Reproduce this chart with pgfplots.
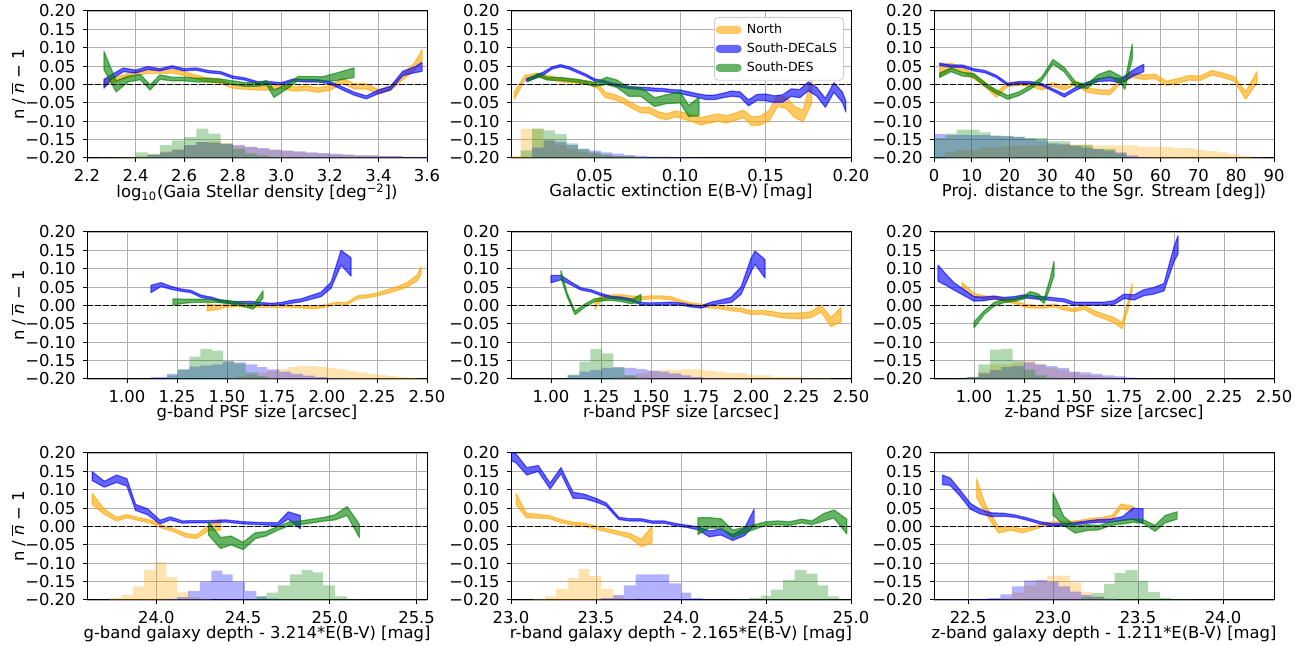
\documentclass[border=0pt]{standalone}
\usepackage{fontspec}
\setmainfont{DejaVu Sans}
\usepackage{pgfplots}
\usepackage{pgfplotstable}
\pgfplotsset{compat=1.18}
\usepgfplotslibrary{fillbetween}

\definecolor{cN}{RGB}{255,165,0}
\definecolor{cS}{RGB}{0,0,255}
\definecolor{cD}{RGB}{0,128,0}

% ---------------- bands: x, centre y, half width e ----------------
% (a) Gaia stellar density
\pgfplotstableread{
x y e
2.27 0.005 0.008
2.30 0.010 0.006
2.35 0.020 0.006
2.40 0.030 0.005
2.45 0.035 0.005
2.50 0.035 0.005
2.55 0.036 0.005
2.60 0.030 0.005
2.65 0.020 0.005
2.70 0.012 0.005
2.75 0.008 0.005
2.80 -0.005 0.005
2.85 -0.008 0.005
2.90 -0.010 0.005
2.95 -0.010 0.005
3.00 -0.005 0.006
3.05 -0.012 0.006
3.10 -0.010 0.006
3.15 -0.015 0.006
3.20 -0.010 0.006
3.25 0.010 0.007
3.30 -0.005 0.007
3.35 -0.005 0.007
3.40 -0.020 0.006
3.45 -0.010 0.006
3.50 0.020 0.007
3.55 0.050 0.010
3.58 0.080 0.015
}\aN
\pgfplotstableread{
x y e
2.27 0.002 0.012
2.30 0.020 0.006
2.35 0.040 0.005
2.40 0.035 0.004
2.45 0.045 0.004
2.50 0.040 0.003
2.55 0.048 0.003
2.60 0.040 0.003
2.65 0.042 0.003
2.70 0.035 0.003
2.75 0.032 0.003
2.80 0.020 0.003
2.85 0.015 0.003
2.90 0.005 0.003
2.95 0.005 0.003
3.00 0.002 0.003
3.05 0.012 0.003
3.10 0.010 0.003
3.15 0.010 0.003
3.20 0.005 0.003
3.25 -0.010 0.004
3.30 -0.025 0.004
3.35 -0.035 0.004
3.40 -0.020 0.005
3.45 -0.010 0.005
3.50 0.030 0.006
3.55 0.040 0.008
3.58 0.048 0.012
}\aS
\pgfplotstableread{
x y e
2.27 0.065 0.025
2.32 -0.005 0.015
2.37 0.015 0.008
2.42 0.020 0.007
2.46 -0.008 0.007
2.50 0.020 0.006
2.55 0.015 0.005
2.60 0.015 0.005
2.65 0.012 0.005
2.70 0.012 0.005
2.75 0.010 0.005
2.80 0.005 0.005
2.85 0.000 0.005
2.90 0.000 0.005
2.94 0.005 0.006
2.97 -0.025 0.010
3.03 -0.003 0.006
3.07 0.017 0.005
3.12 0.017 0.005
3.17 0.015 0.006
3.22 0.020 0.010
3.30 0.032 0.013
}\aD
% (b) Galactic extinction
\pgfplotstableread{
x y e
0.003 -0.030 0.010
0.009 0.018 0.006
0.016 0.026 0.005
0.022 0.020 0.005
0.030 0.012 0.005
0.040 0.008 0.005
0.047 0.004 0.005
0.052 -0.005 0.006
0.056 -0.028 0.007
0.062 -0.035 0.007
0.067 -0.045 0.007
0.072 -0.058 0.007
0.077 -0.070 0.007
0.082 -0.070 0.008
0.087 -0.082 0.008
0.092 -0.088 0.008
0.097 -0.080 0.008
0.102 -0.085 0.009
0.107 -0.092 0.009
0.112 -0.100 0.010
0.117 -0.095 0.010
0.122 -0.090 0.010
0.127 -0.095 0.010
0.132 -0.088 0.010
0.137 -0.080 0.010
0.142 -0.100 0.012
0.147 -0.098 0.012
0.152 -0.085 0.014
0.157 -0.045 0.015
0.162 -0.050 0.015
0.167 -0.075 0.015
0.172 -0.085 0.015
0.177 -0.015 0.035
}\bN
\pgfplotstableread{
x y e
0.010 0.012 0.004
0.015 0.020 0.004
0.020 0.030 0.004
0.025 0.045 0.003
0.030 0.051 0.003
0.035 0.045 0.003
0.040 0.035 0.003
0.045 0.025 0.003
0.050 0.012 0.003
0.055 0.008 0.003
0.060 0.001 0.003
0.065 -0.004 0.003
0.070 -0.008 0.003
0.075 -0.010 0.003
0.080 -0.012 0.004
0.085 -0.014 0.004
0.090 -0.015 0.004
0.095 -0.018 0.004
0.100 -0.020 0.005
0.105 -0.025 0.005
0.110 -0.030 0.005
0.115 -0.035 0.006
0.120 -0.035 0.006
0.125 -0.030 0.006
0.130 -0.025 0.007
0.135 -0.027 0.007
0.140 -0.050 0.008
0.145 -0.035 0.008
0.150 -0.035 0.009
0.155 -0.040 0.009
0.160 -0.038 0.010
0.165 -0.022 0.010
0.170 -0.025 0.011
0.175 -0.005 0.012
0.180 -0.020 0.012
0.185 -0.050 0.012
0.190 -0.008 0.013
0.195 -0.035 0.014
0.197 -0.060 0.015
}\bS
\pgfplotstableread{
x y e
0.011 0.012 0.004
0.017 0.026 0.004
0.022 0.016 0.004
0.030 0.015 0.004
0.040 0.010 0.004
0.050 0.000 0.005
0.057 0.010 0.010
0.063 0.002 0.010
0.070 -0.020 0.012
0.077 -0.020 0.012
0.085 -0.048 0.012
0.092 -0.040 0.012
0.100 -0.035 0.015
0.105 -0.072 0.015
0.111 -0.060 0.025
}\bD
% (c) distance to the Sgr. stream
\pgfplotstableread{
x y e
1.5 0.038 0.015
4.5 0.050 0.008
7.5 0.040 0.006
10.5 0.022 0.006
13.5 0.000 0.006
16.5 -0.028 0.007
19.5 0.000 0.005
22.5 0.002 0.005
25.5 0.000 0.005
28.5 -0.010 0.005
31.5 0.000 0.005
34.5 -0.010 0.005
37.5 0.005 0.005
40.5 -0.015 0.006
43.5 -0.020 0.006
46.5 -0.022 0.006
49.5 0.010 0.006
52.5 0.025 0.006
55.5 0.020 0.006
58.5 0.022 0.006
61.5 0.003 0.006
64.5 0.010 0.006
67.5 0.018 0.006
70.5 0.017 0.006
73.5 0.032 0.006
76.5 0.025 0.006
79.5 0.015 0.006
82.5 -0.030 0.010
85.5 0.020 0.015
}\cN
\pgfplotstableread{
x y e
1.5 0.055 0.003
4.5 0.050 0.003
7.5 0.050 0.003
10.5 0.040 0.003
13.5 0.035 0.003
16.5 0.022 0.003
19.5 0.000 0.003
22.5 0.005 0.003
25.5 0.005 0.003
28.5 0.000 0.003
31.5 -0.015 0.003
34.5 -0.030 0.004
37.5 -0.012 0.004
40.5 0.002 0.004
43.5 0.012 0.004
46.5 0.015 0.005
49.5 0.010 0.006
52.5 0.030 0.008
55.5 0.045 0.010
}\cS
\pgfplotstableread{
x y e
1.5 0.025 0.006
4.5 0.040 0.005
7.5 0.028 0.005
10.5 0.025 0.005
13.5 0.000 0.005
16.5 -0.020 0.005
19.5 -0.035 0.005
22.5 -0.025 0.005
25.5 -0.008 0.005
28.5 0.015 0.005
31.5 0.062 0.006
34.5 0.040 0.006
37.5 0.000 0.006
40.5 -0.005 0.006
43.5 0.020 0.007
46.5 0.030 0.008
49.5 0.012 0.010
50.5 -0.003 0.010
52.5 0.090 0.020
}\cD
% (d) g-band PSF
\pgfplotstableread{
x y e
1.40 -0.005 0.010
1.45 -0.005 0.006
1.50 0.000 0.004
1.55 0.000 0.003
1.60 -0.002 0.003
1.65 -0.002 0.003
1.70 -0.002 0.003
1.75 -0.003 0.003
1.80 -0.001 0.003
1.85 -0.003 0.003
1.90 -0.005 0.003
1.95 -0.006 0.003
2.00 0.000 0.003
2.05 0.006 0.003
2.10 0.005 0.003
2.15 0.022 0.004
2.20 0.025 0.004
2.25 0.030 0.004
2.30 0.038 0.005
2.35 0.046 0.005
2.40 0.056 0.006
2.45 0.075 0.008
2.47 0.095 0.010
}\dN
\pgfplotstableread{
x y e
1.12 0.045 0.010
1.17 0.057 0.005
1.22 0.048 0.004
1.27 0.042 0.003
1.32 0.038 0.003
1.37 0.025 0.003
1.42 0.020 0.003
1.47 0.012 0.003
1.52 0.008 0.003
1.57 0.008 0.003
1.62 0.008 0.003
1.67 0.005 0.003
1.72 0.003 0.003
1.77 0.005 0.003
1.82 0.010 0.004
1.87 0.014 0.004
1.92 0.022 0.005
1.97 0.030 0.006
2.02 0.055 0.008
2.07 0.130 0.020
2.12 0.105 0.025
}\dS
\pgfplotstableread{
x y e
1.23 0.010 0.008
1.30 0.012 0.005
1.35 0.013 0.004
1.40 0.013 0.004
1.45 0.012 0.004
1.50 0.010 0.004
1.55 0.006 0.004
1.60 0.000 0.005
1.63 -0.004 0.006
1.66 0.015 0.008
1.68 0.030 0.010
}\dD
% (e) r-band PSF
\pgfplotstableread{
x y e
1.22 0.000 0.010
1.25 0.020 0.006
1.30 0.025 0.004
1.35 0.025 0.004
1.40 0.022 0.004
1.45 0.020 0.004
1.50 0.022 0.004
1.55 0.022 0.004
1.60 0.020 0.004
1.65 0.010 0.004
1.70 0.003 0.004
1.75 0.000 0.004
1.80 -0.003 0.004
1.85 -0.005 0.004
1.90 -0.010 0.004
1.95 -0.012 0.005
2.00 -0.020 0.005
2.05 -0.018 0.005
2.10 -0.022 0.006
2.15 -0.027 0.006
2.20 -0.028 0.007
2.25 -0.028 0.008
2.30 -0.025 0.008
2.35 -0.008 0.010
2.40 -0.045 0.012
2.45 -0.025 0.020
}\eN
\pgfplotstableread{
x y e
1.00 0.072 0.010
1.05 0.076 0.006
1.10 0.060 0.004
1.15 0.045 0.003
1.20 0.040 0.003
1.25 0.030 0.003
1.30 0.022 0.003
1.35 0.020 0.003
1.40 0.015 0.003
1.45 0.005 0.003
1.50 0.004 0.003
1.55 0.005 0.003
1.60 0.006 0.003
1.65 0.004 0.003
1.70 -0.001 0.003
1.75 -0.004 0.003
1.80 0.005 0.004
1.85 0.010 0.005
1.90 0.015 0.007
1.95 0.040 0.010
2.00 0.110 0.018
2.02 0.130 0.018
2.07 0.100 0.025
}\eS
\pgfplotstableread{
x y e
1.05 0.085 0.010
1.08 0.030 0.005
1.12 -0.020 0.005
1.17 0.000 0.004
1.22 0.015 0.004
1.30 0.018 0.004
1.35 0.015 0.004
1.40 0.010 0.005
1.45 0.020 0.010
}\eD
% (f) z-band PSF
\pgfplotstableread{
x y e
0.94 0.055 0.008
1.00 0.028 0.005
1.05 0.022 0.004
1.10 0.020 0.004
1.15 0.015 0.004
1.20 0.010 0.004
1.25 0.000 0.004
1.30 -0.003 0.004
1.35 -0.003 0.004
1.40 0.000 0.004
1.45 -0.008 0.004
1.50 -0.013 0.004
1.55 -0.005 0.005
1.60 -0.020 0.006
1.65 -0.030 0.006
1.70 -0.040 0.007
1.74 -0.055 0.008
1.77 0.000 0.010
1.79 0.048 0.012
}\fN
\pgfplotstableread{
x y e
0.82 0.088 0.022
0.86 0.070 0.015
0.90 0.052 0.010
0.95 0.035 0.008
1.00 0.018 0.006
1.05 0.018 0.005
1.10 0.022 0.004
1.15 0.018 0.004
1.20 0.020 0.004
1.25 0.025 0.004
1.30 0.022 0.004
1.35 0.020 0.004
1.40 0.017 0.004
1.45 0.014 0.004
1.50 0.005 0.004
1.55 0.005 0.004
1.60 0.005 0.004
1.65 0.005 0.004
1.70 0.008 0.005
1.75 0.025 0.006
1.80 0.022 0.007
1.85 0.035 0.008
1.90 0.040 0.009
1.95 0.050 0.010
2.00 0.140 0.020
2.02 0.165 0.025
}\fS
\pgfplotstableread{
x y e
1.00 -0.053 0.008
1.05 -0.020 0.005
1.10 0.003 0.005
1.15 0.012 0.004
1.20 0.015 0.004
1.25 0.022 0.004
1.28 0.033 0.005
1.32 0.026 0.006
1.35 0.012 0.006
1.38 0.060 0.012
1.40 0.100 0.020
}\fD
% (g) g-band depth
\pgfplotstableread{
x y e
23.63 0.075 0.015
23.70 0.040 0.007
23.77 0.020 0.005
23.83 0.028 0.004
23.90 0.020 0.004
23.97 0.013 0.004
24.03 0.000 0.004
24.10 -0.010 0.004
24.17 -0.024 0.005
24.23 -0.028 0.005
24.30 -0.005 0.007
24.37 0.005 0.015
}\gN
\pgfplotstableread{
x y e
23.63 0.137 0.012
23.70 0.115 0.008
23.77 0.130 0.010
23.83 0.120 0.010
23.88 0.052 0.008
23.95 0.040 0.008
24.02 0.012 0.005
24.08 0.022 0.004
24.15 0.012 0.003
24.20 0.013 0.003
24.30 0.013 0.003
24.40 0.015 0.003
24.50 0.010 0.003
24.60 0.008 0.003
24.70 0.006 0.004
24.76 0.030 0.010
24.83 0.012 0.018
}\gS
\pgfplotstableread{
x y e
24.30 -0.005 0.018
24.37 -0.045 0.015
24.43 -0.038 0.012
24.50 -0.053 0.010
24.57 -0.025 0.008
24.63 -0.020 0.006
24.70 -0.005 0.005
24.77 0.008 0.005
24.83 0.010 0.005
24.90 0.015 0.005
24.97 0.020 0.005
25.03 0.025 0.007
25.10 0.042 0.012
25.17 -0.012 0.018
}\gD
% (h) r-band depth
\pgfplotstableread{
x y e
23.03 0.075 0.015
23.09 0.030 0.006
23.16 0.028 0.005
23.23 0.025 0.004
23.29 0.015 0.004
23.365 0.008 0.004
23.43 0.005 0.004
23.497 -0.003 0.004
23.56 -0.010 0.004
23.634 -0.018 0.005
23.70 -0.025 0.006
23.766 -0.045 0.010
23.83 -0.022 0.022
}\hN
\pgfplotstableread{
x y e
23.00 0.192 0.012
23.03 0.185 0.012
23.093 0.150 0.010
23.16 0.158 0.008
23.23 0.110 0.008
23.294 0.152 0.008
23.365 0.085 0.008
23.43 0.082 0.006
23.497 0.072 0.005
23.56 0.060 0.004
23.634 0.022 0.003
23.70 0.018 0.003
23.766 0.018 0.003
23.83 0.012 0.003
23.90 0.012 0.003
23.97 0.005 0.003
24.04 0.000 0.003
24.10 -0.005 0.004
24.166 -0.020 0.008
24.235 -0.015 0.008
24.304 -0.030 0.008
24.373 -0.015 0.010
24.43 0.025 0.022
}\hS
\pgfplotstableread{
x y e
24.10 0.001 0.023
24.166 0.010 0.014
24.235 0.008 0.013
24.304 -0.020 0.010
24.373 -0.010 0.008
24.442 0.000 0.006
24.50 0.008 0.005
24.57 0.010 0.005
24.64 0.008 0.005
24.71 0.015 0.005
24.77 0.010 0.005
24.84 0.025 0.010
24.90 0.034 0.011
24.975 0.000 0.020
}\hD
% (i) z-band depth
\pgfplotstableread{
x y e
22.55 0.105 0.025
22.60 0.050 0.012
22.68 -0.010 0.008
22.75 -0.005 0.005
22.82 -0.012 0.005
22.88 -0.005 0.004
22.95 0.005 0.004
23.02 0.010 0.004
23.08 0.010 0.004
23.15 0.012 0.004
23.22 0.018 0.004
23.29 0.020 0.005
23.35 0.025 0.006
23.40 0.055 0.006
23.47 0.048 0.007
}\iN
\pgfplotstableread{
x y e
22.35 0.127 0.013
22.395 0.122 0.010
22.455 0.090 0.008
22.514 0.055 0.008
22.573 0.040 0.006
22.64 0.032 0.005
22.71 0.032 0.004
22.78 0.028 0.003
22.85 0.020 0.003
22.925 0.010 0.003
22.995 0.005 0.003
23.064 0.005 0.003
23.13 0.008 0.003
23.20 0.012 0.003
23.27 0.015 0.004
23.34 0.016 0.004
23.41 0.022 0.005
23.47 0.035 0.015
23.53 0.028 0.020
}\iS
\pgfplotstableread{
x y e
23.00 0.062 0.030
23.064 0.015 0.012
23.13 -0.008 0.010
23.20 -0.003 0.008
23.27 -0.003 0.006
23.34 0.008 0.005
23.41 0.012 0.005
23.47 0.016 0.005
23.53 0.014 0.005
23.60 -0.005 0.008
23.66 0.020 0.010
23.73 0.030 0.010
}\iD

% ---------------- histograms: left bin edge, bar top ----------------
\pgfplotstableread{
x h
2.25 -0.200
2.30 -0.199
2.40 -0.195
2.45 -0.190
2.50 -0.182
2.55 -0.175
2.60 -0.165
2.65 -0.157
2.70 -0.155
2.75 -0.160
2.80 -0.167
2.85 -0.170
2.90 -0.175
2.95 -0.178
3.00 -0.180
3.05 -0.183
3.10 -0.186
3.15 -0.188
3.20 -0.190
3.30 -0.192
3.40 -0.195
3.50 -0.198
3.60 -0.200
}\haN
\pgfplotstableread{
x h
2.25 -0.200
2.40 -0.197
2.45 -0.192
2.50 -0.185
2.55 -0.178
2.60 -0.165
2.65 -0.157
2.70 -0.158
2.75 -0.162
2.80 -0.165
2.85 -0.170
2.90 -0.173
2.95 -0.177
3.00 -0.180
3.05 -0.182
3.10 -0.185
3.15 -0.187
3.20 -0.189
3.25 -0.191
3.30 -0.193
3.40 -0.195
3.50 -0.197
3.60 -0.200
}\haS
\pgfplotstableread{
x h
2.25 -0.200
2.35 -0.198
2.40 -0.185
2.45 -0.189
2.50 -0.165
2.55 -0.152
2.60 -0.143
2.65 -0.120
2.70 -0.134
2.75 -0.160
2.80 -0.175
2.85 -0.188
2.90 -0.193
2.95 -0.197
3.00 -0.199
3.30 -0.200
}\haD
\pgfplotstableread{
x h
0.0000 -0.200
0.0000 -0.195
0.0067 -0.120
0.0134 -0.120
0.0201 -0.150
0.0268 -0.165
0.0335 -0.175
0.0402 -0.183
0.0469 -0.188
0.0536 -0.192
0.0603 -0.195
0.0670 -0.197
0.0804 -0.199
0.1000 -0.200
}\hbN
\pgfplotstableread{
x h
0.0067 -0.200
0.0134 -0.172
0.0201 -0.152
0.0268 -0.156
0.0335 -0.165
0.0402 -0.175
0.0469 -0.180
0.0536 -0.185
0.0603 -0.188
0.0670 -0.192
0.0737 -0.194
0.0804 -0.196
0.0938 -0.198
0.1100 -0.199
0.1500 -0.200
}\hbS
\pgfplotstableread{
x h
0.0067 -0.200
0.0067 -0.179
0.0134 -0.120
0.0201 -0.125
0.0268 -0.135
0.0335 -0.160
0.0402 -0.175
0.0469 -0.185
0.0536 -0.190
0.0603 -0.195
0.0737 -0.198
0.0900 -0.200
}\hbD
\pgfplotstableread{
x h
0 -0.200
3 -0.183
6 -0.178
12 -0.172
18 -0.168
24 -0.165
30 -0.163
42 -0.166
54 -0.170
63 -0.173
69 -0.177
72 -0.181
75 -0.185
78 -0.190
81 -0.195
84 -0.199
87 -0.200
}\hcN
\pgfplotstableread{
x h
0 -0.200
0 -0.135
3 -0.137
9 -0.138
15 -0.139
18 -0.141
21 -0.143
24 -0.147
27 -0.152
30 -0.160
33 -0.163
36 -0.167
39 -0.172
42 -0.176
45 -0.180
48 -0.185
51 -0.193
54 -0.198
57 -0.200
}\hcS
\pgfplotstableread{
x h
0 -0.200
0 -0.145
3 -0.134
6 -0.123
12 -0.130
15 -0.140
21 -0.142
24 -0.145
30 -0.155
36 -0.165
42 -0.175
48 -0.188
51 -0.200
}\hcD
\pgfplotstableread{
x h
1.40 -0.200
1.50 -0.197
1.55 -0.193
1.60 -0.188
1.65 -0.183
1.70 -0.178
1.75 -0.173
1.80 -0.168
1.85 -0.165
1.90 -0.165
1.95 -0.167
2.00 -0.170
2.05 -0.174
2.10 -0.178
2.15 -0.182
2.20 -0.186
2.25 -0.189
2.30 -0.192
2.35 -0.195
2.40 -0.197
2.45 -0.199
2.50 -0.200
}\hdN
\pgfplotstableread{
x h
1.10 -0.200
1.12 -0.195
1.200 -0.186
1.256 -0.175
1.312 -0.166
1.367 -0.163
1.426 -0.160
1.481 -0.153
1.534 -0.155
1.593 -0.160
1.651 -0.168
1.70 -0.174
1.76 -0.180
1.82 -0.186
1.88 -0.191
1.94 -0.195
2.00 -0.198
2.10 -0.200
}\hdS
\pgfplotstableread{
x h
1.145 -0.200
1.200 -0.190
1.256 -0.173
1.312 -0.139
1.367 -0.118
1.426 -0.123
1.481 -0.151
1.534 -0.158
1.593 -0.182
1.651 -0.192
1.70 -0.197
1.76 -0.199
1.82 -0.200
}\hdD
\pgfplotstableread{
x h
1.25 -0.200
1.312 -0.195
1.367 -0.190
1.426 -0.185
1.48 -0.178
1.54 -0.175
1.65 -0.174
1.76 -0.177
1.82 -0.180
1.87 -0.184
1.98 -0.190
2.10 -0.195
2.25 -0.198
2.40 -0.200
}\heN
\pgfplotstableread{
x h
1.03 -0.200
1.03 -0.198
1.083 -0.190
1.142 -0.180
1.197 -0.175
1.254 -0.170
1.312 -0.168
1.367 -0.170
1.426 -0.173
1.48 -0.177
1.54 -0.180
1.59 -0.185
1.65 -0.190
1.70 -0.195
1.76 -0.198
1.85 -0.200
}\heS
\pgfplotstableread{
x h
1.03 -0.200
1.083 -0.188
1.142 -0.153
1.197 -0.119
1.254 -0.130
1.312 -0.169
1.367 -0.190
1.426 -0.196
1.48 -0.200
}\heD
\pgfplotstableread{
x h
0.966 -0.200
0.966 -0.195
1.022 -0.180
1.080 -0.160
1.137 -0.160
1.193 -0.155
1.248 -0.150
1.305 -0.160
1.360 -0.170
1.418 -0.176
1.475 -0.182
1.530 -0.188
1.585 -0.191
1.640 -0.195
1.700 -0.198
1.760 -0.200
}\hfN
\pgfplotstableread{
x h
0.910 -0.200
0.910 -0.198
0.966 -0.195
1.022 -0.185
1.080 -0.175
1.137 -0.168
1.193 -0.165
1.248 -0.155
1.305 -0.160
1.360 -0.165
1.418 -0.170
1.475 -0.180
1.530 -0.182
1.585 -0.186
1.640 -0.190
1.700 -0.193
1.760 -0.196
1.815 -0.198
1.870 -0.200
}\hfS
\pgfplotstableread{
x h
0.966 -0.200
0.966 -0.195
1.022 -0.160
1.080 -0.120
1.137 -0.118
1.193 -0.150
1.248 -0.175
1.305 -0.190
1.360 -0.196
1.418 -0.199
1.475 -0.200
}\hfD
\pgfplotstableread{
x h
23.66 -0.200
23.73 -0.195
23.798 -0.186
23.865 -0.163
23.93 -0.118
23.994 -0.097
24.058 -0.138
24.12 -0.179
24.187 -0.192
24.25 -0.197
24.313 -0.200
}\hgN
\pgfplotstableread{
x h
24.05 -0.200
24.05 -0.197
24.12 -0.192
24.183 -0.175
24.25 -0.150
24.317 -0.120
24.38 -0.130
24.44 -0.150
24.51 -0.175
24.577 -0.190
24.635 -0.196
24.70 -0.199
24.77 -0.200
}\hgS
\pgfplotstableread{
x h
24.50 -0.200
24.50 -0.198
24.577 -0.190
24.635 -0.180
24.70 -0.160
24.77 -0.130
24.837 -0.118
24.90 -0.125
24.96 -0.160
25.03 -0.190
25.10 -0.198
25.17 -0.200
}\hgD
\pgfplotstableread{
x h
23.065 -0.200
23.132 -0.197
23.200 -0.190
23.266 -0.170
23.333 -0.140
23.398 -0.115
23.463 -0.135
23.530 -0.170
23.600 -0.190
23.664 -0.198
23.733 -0.200
}\hhN
\pgfplotstableread{
x h
23.46 -0.200
23.53 -0.195
23.60 -0.187
23.664 -0.160
23.733 -0.130
23.80 -0.130
23.86 -0.130
23.93 -0.155
24.00 -0.180
24.06 -0.195
24.127 -0.198
24.196 -0.200
}\hhS
\pgfplotstableread{
x h
24.27 -0.200
24.33 -0.198
24.403 -0.195
24.472 -0.188
24.53 -0.172
24.60 -0.145
24.669 -0.118
24.738 -0.128
24.803 -0.160
24.866 -0.190
24.93 -0.200
}\hhD
\pgfplotstableread{
x h
22.62 -0.200
22.69 -0.195
22.76 -0.180
22.83 -0.160
22.90 -0.148
22.966 -0.134
23.033 -0.134
23.10 -0.152
23.166 -0.178
23.23 -0.190
23.30 -0.197
23.37 -0.200
}\hiN
\pgfplotstableread{
x h
22.30 -0.200
22.30 -0.199
22.55 -0.197
22.62 -0.195
22.69 -0.185
22.76 -0.163
22.83 -0.147
22.90 -0.145
22.966 -0.150
23.033 -0.163
23.10 -0.177
23.166 -0.186
23.23 -0.192
23.30 -0.196
23.37 -0.199
23.45 -0.200
}\hiS
\pgfplotstableread{
x h
23.166 -0.200
23.166 -0.192
23.23 -0.181
23.30 -0.156
23.362 -0.127
23.426 -0.118
23.497 -0.148
23.56 -0.178
23.63 -0.194
23.694 -0.198
23.826 -0.200
}\hiD

% ---------------- drawing helpers ----------------
\newcommand\band[3]{% name, colour, table
  \addplot[draw=none, forget plot, name path=#1hi] table[x=x, y expr=\thisrow{y}+\thisrow{e}] {#3};
  \addplot[draw=none, forget plot, name path=#1lo] table[x=x, y expr=\thisrow{y}-\thisrow{e}] {#3};
  \addplot[fill=#2, fill opacity=0.6, draw=#2, draw opacity=0.6, line width=0.6pt,
    line join=round, forget plot] fill between[of=#1hi and #1lo];
}
\newcommand\hist[2]{% colour, table
  \addplot[const plot mark left, draw=none, fill=#1, fill opacity=0.3, forget plot]
    table[x=x, y=h] {#2} -- cycle;
}
\newcommand\zeroline[2]{%
  \addplot[black, line width=0.75pt, dash pattern=on 2.8pt off 1.2pt, forget plot]
    coordinates {(#1,0) (#2,0)};
}

\newcommand\lbl{\fontsize{8.2}{9.5}\selectfont}
\newcommand\leg{\fontsize{6.3}{7.2}\selectfont}
\pgfplotsset{
  panel/.style={
    scale only axis, width=170pt, height=73.5pt, anchor=north west,
    ymin=-0.2, ymax=0.2,
    ytick={-0.2,-0.15,-0.1,-0.05,0,0.05,0.1,0.15,0.2},
    yticklabels={−0.20,−0.15,−0.10,−0.05,0.00,0.05,0.10,0.15,0.20},
    grid=major, grid style={draw=black!31, line width=0.45pt},
    axis line style={line width=0.5pt, black},
    tick style={line width=0.5pt, black},
    major tick length=2.2pt, tick align=outside, tick pos=left,
    tick label style={font=\lbl},
    label style={font=\lbl},
    xlabel style={yshift=6pt},
    ylabel style={yshift=-7pt},
  },
  ylab/.style={ylabel={n / $\overline{\hbox{\itshape n}}\hbox{\hspace{0.3em}−\hspace{0.3em}1}$}},
}

\begin{document}
\begin{tikzpicture}
% ---- row 1 ----
\begin{axis}[panel, ylab, at={(43.5pt,-5.5pt)},
  xmin=2.2, xmax=3.6, xtick={2.2,2.4,2.6,2.8,3.0,3.2,3.4,3.6},
  xticklabels={2.2,2.4,2.6,2.8,3.0,3.2,3.4,3.6},
  xlabel={log\textsubscript{10}(Gaia Stellar density [deg\textsuperscript{−2}])}]
\hist{cN}{\haN}\hist{cS}{\haS}\hist{cD}{\haD}
\band{n}{cN}{\aN}\band{s}{cS}{\aS}\band{d}{cD}{\aD}
\zeroline{2.2}{3.6}
\end{axis}
\begin{axis}[panel, at={(255.5pt,-5.5pt)},
  xmin=0.001, xmax=0.2, xtick={0.05,0.10,0.15,0.20},
  xticklabels={0.05,0.10,0.15,0.20},
  xlabel={Galactic extinction E(B-V) [mag]},
  legend style={at={(1,1)}, xshift=-3.5pt, yshift=-3pt, anchor=north east,
    draw=black!20, rounded corners=2pt, fill=white, font=\leg,
    nodes={inner xsep=2.6pt, inner ysep=1.1pt},
    row sep=1pt, inner xsep=0.6pt, inner ysep=2pt},
  legend cell align=left,
  legend image code/.code={\fill[#1] (0pt,-2pt) rectangle (13pt,2pt);}]
\hist{cN}{\hbN}\hist{cS}{\hbS}\hist{cD}{\hbD}
\band{n}{cN}{\bN}\band{s}{cS}{\bS}\band{d}{cD}{\bD}
\zeroline{0.001}{0.2}
\addlegendimage{fill=cN, fill opacity=0.6, draw=none}
\addlegendentry{North}
\addlegendimage{fill=cS, fill opacity=0.6, draw=none}
\addlegendentry{South-DECaLS}
\addlegendimage{fill=cD, fill opacity=0.6, draw=none}
\addlegendentry{South-DES}
\end{axis}
\begin{axis}[panel, at={(467pt,-5.5pt)},
  xmin=0, xmax=90, xtick={0,10,...,90},
  xticklabels={0,10,20,30,40,50,60,70,80,90},
  xlabel={Proj. distance to the Sgr. Stream [deg])}]
\hist{cN}{\hcN}\hist{cS}{\hcS}\hist{cD}{\hcD}
\band{n}{cN}{\cN}\band{s}{cS}{\cS}\band{d}{cD}{\cD}
\zeroline{0}{90}
\end{axis}
% ---- row 2 ----
\begin{axis}[panel, ylab, at={(43.5pt,-116pt)},
  xmin=0.8, xmax=2.5, xtick={1,1.25,1.5,1.75,2,2.25,2.5},
  xticklabels={1.00,1.25,1.50,1.75,2.00,2.25,2.50},
  xlabel={g-band PSF size [arcsec]}]
\hist{cN}{\hdN}\hist{cS}{\hdS}\hist{cD}{\hdD}
\band{n}{cN}{\dN}\band{s}{cS}{\dS}\band{d}{cD}{\dD}
\zeroline{0.8}{2.5}
\end{axis}
\begin{axis}[panel, at={(255.5pt,-116pt)},
  xmin=0.8, xmax=2.5, xtick={1,1.25,1.5,1.75,2,2.25,2.5},
  xticklabels={1.00,1.25,1.50,1.75,2.00,2.25,2.50},
  xlabel={r-band PSF size [arcsec]}]
\hist{cN}{\heN}\hist{cS}{\heS}\hist{cD}{\heD}
\band{n}{cN}{\eN}\band{s}{cS}{\eS}\band{d}{cD}{\eD}
\zeroline{0.8}{2.5}
\end{axis}
\begin{axis}[panel, at={(467pt,-116pt)},
  xmin=0.8, xmax=2.5, xtick={1,1.25,1.5,1.75,2,2.25,2.5},
  xticklabels={1.00,1.25,1.50,1.75,2.00,2.25,2.50},
  xlabel={z-band PSF size [arcsec]}]
\hist{cN}{\hfN}\hist{cS}{\hfS}\hist{cD}{\hfD}
\band{n}{cN}{\fN}\band{s}{cS}{\fS}\band{d}{cD}{\fD}
\zeroline{0.8}{2.5}
\end{axis}
% ---- row 3 ----
\begin{axis}[panel, ylab, at={(43.5pt,-226.5pt)},
  xmin=23.6, xmax=25.56, xtick={24,24.5,25,25.5},
  xticklabels={24.0,24.5,25.0,25.5},
  xlabel={g-band galaxy depth - 3.214*E(B-V) [mag]}]
\hist{cN}{\hgN}\hist{cS}{\hgS}\hist{cD}{\hgD}
\band{n}{cN}{\gN}\band{s}{cS}{\gS}\band{d}{cD}{\gD}
\zeroline{23.6}{25.56}
\end{axis}
\begin{axis}[panel, at={(255.5pt,-226.5pt)},
  xmin=23, xmax=25, xtick={23,23.5,24,24.5,25},
  xticklabels={23.0,23.5,24.0,24.5,25.0},
  xlabel={r-band galaxy depth - 2.165*E(B-V) [mag]}]
\hist{cN}{\hhN}\hist{cS}{\hhS}\hist{cD}{\hhD}
\band{n}{cN}{\hN}\band{s}{cS}{\hS}\band{d}{cD}{\hD}
\zeroline{23}{25}
\end{axis}
\begin{axis}[panel, at={(467pt,-226.5pt)},
  xmin=22.3, xmax=24.3, xtick={22.5,23,23.5,24},
  xticklabels={22.5,23.0,23.5,24.0},
  xlabel={z-band galaxy depth - 1.211*E(B-V) [mag]}]
\hist{cN}{\hiN}\hist{cS}{\hiS}\hist{cD}{\hiD}
\band{n}{cN}{\iN}\band{s}{cS}{\iS}\band{d}{cD}{\iD}
\zeroline{22.3}{24.3}
\end{axis}
\pgfresetboundingbox
\path[use as bounding box] (0,0) rectangle (656pt,-323pt);
\end{tikzpicture}
\end{document}
